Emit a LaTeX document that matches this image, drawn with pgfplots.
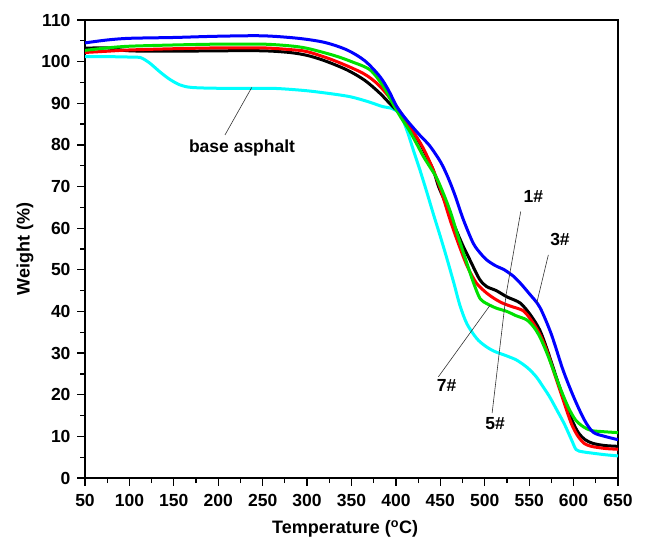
\documentclass[border=0pt]{standalone}
\usepackage{pgfplots}
\pgfplotsset{compat=1.18}
\usepackage{fontspec}
\setmainfont{Liberation Sans}
\definecolor{cblue}{RGB}{0,0,255}
\definecolor{cred}{RGB}{255,0,0}
\definecolor{cgreen}{RGB}{0,225,0}
\definecolor{ccyan}{RGB}{0,255,255}
\begin{document}
\begin{tikzpicture}
\begin{axis}[
  scale only axis, width=533pt, height=458pt,
  xmin=50, xmax=650, ymin=0, ymax=110,
  xtick={50,100,...,650}, ytick={0,10,...,110},
  minor x tick num=1, minor y tick num=1,
  tick pos=left, tick align=outside,
  major tick length=8pt, minor tick length=5pt,
  every tick/.style={line width=1.2pt, black},
  axis line style={line width=1.6pt},
  /pgf/number format/assume math mode=true,
  ticklabel style={font=\bfseries\fontsize{17.5}{17.5}\selectfont},
  xticklabel style={yshift=-5pt},
  yticklabel style={xshift=-3pt},
  every axis x label/.style={at={(axis description cs:0.488,0)}, yshift=-51pt, anchor=center, font=\bfseries\fontsize{18}{18}\selectfont},
  every axis y label/.style={at={(axis description cs:0,0.5)}, xshift=-60pt, rotate=90, anchor=center, font=\bfseries\fontsize{18}{18}\selectfont},
  xlabel={Temperature (\textsuperscript{o}C)},
  ylabel={Weight (\%)},
  every axis plot/.append style={line width=3pt, smooth},
]
% base asphalt
\addplot[ccyan] coordinates {(50,101.2) (75,101.2) (100,101.1) (112,101) (122,99.8) (134,97.6) (145,95.8) (157,94.4) (170,93.8) (200,93.6) (250,93.6) (270,93.5) (300,93) (330,92.2) (350,91.5) (370,90.3) (385,89.2) (395,88.8) (403,87.8) (408,86) (414,82.5) (420,78.5) (427,74) (435,68.5) (442,63.5) (450,58) (457,53) (465,47) (472,41.5) (480,37) (491,33.5) (500,31.8) (510,30.5) (525,29.3) (536,28.3) (548,26.5) (558,24.3) (566,21.8) (573,19.5) (582,16) (590,12.8) (598,9) (603,6.8) (610,6.3) (620,6) (635,5.6) (650,5.3)};
% 1#
\addplot[black] coordinates {(50,103.2) (75,103.3) (100,102.6) (150,102.5) (200,102.6) (250,102.6) (280,102.2) (300,101.5) (320,100.2) (345,98) (365,95.5) (382,92.4) (395,89.5) (408,86.8) (418,83.5) (427,80.4) (434,77.5) (442,74) (448,70) (455,66.5) (465,61) (475,56) (483,52.5) (494,47.8) (502,46) (513,45) (525,43.5) (540,42) (552,39) (562,35.5) (570,31) (577,26.5) (584,22) (591,17.8) (598,14) (605,11) (613,9.2) (622,8.3) (635,7.8) (650,7.6)};
% 5#
\addplot[cred] coordinates {(50,102.2) (75,102.5) (100,102.8) (150,103.1) (200,103.3) (250,103.3) (280,102.9) (300,102.4) (330,100.3) (363,97.2) (380,94.5) (395,90.8) (410,86.3) (420,83) (430,79.5) (440,75) (450,69.5) (461,62) (470,56.5) (480,51) (490,47) (500,44.8) (510,43.2) (520,42) (530,41.2) (543,40.2) (552,38) (562,34.5) (570,30.5) (577,26) (584,21.5) (591,17) (598,12.8) (605,10) (612,8.3) (620,7.6) (635,7.1) (650,6.9)};
% 7#
\addplot[cgreen] coordinates {(50,102.7) (75,103.3) (100,103.7) (150,104) (200,104.2) (250,104.2) (280,103.8) (300,103.2) (330,101.5) (350,100) (371,98) (386,94) (395,90.5) (405,86.8) (415,83.5) (424,80) (431,77.2) (438,74.8) (446,72) (455,67.5) (462,63.5) (470,58) (480,51.5) (488,46.5) (495,43) (503,41.8) (513,40.8) (525,40) (535,39) (547,38) (555,36.3) (562,33.9) (570,30) (578,25.5) (586,21) (594,17) (602,14) (611,12.3) (620,11.4) (635,11.1) (650,10.9)};
% 3#
\addplot[cblue] coordinates {(50,104.5) (75,105.2) (100,105.6) (150,105.8) (200,106.1) (250,106.2) (290,105.6) (320,104.6) (345,102.8) (365,100.2) (382,96.4) (392,93) (401,89.2) (412,86) (427,82.3) (438,79.8) (450,76) (458,72.5) (466,68.2) (476,62) (487,56.4) (495,54) (502,52.4) (512,51) (522,50) (532,48.5) (540,46.8) (550,44.3) (562,41) (575,34.5) (588,26) (600,19.5) (612,14) (622,11) (635,10) (650,9.2)};
% annotations
\draw[line width=0.6pt, black!80] (axis cs:207.6,82.4) -- (axis cs:237.7,93.8);
\node[font=\bfseries\fontsize{17.5}{17.5}\selectfont] at (axis cs:226.8,79.3) {base asphalt};
\draw[line width=0.6pt, black!80] (axis cs:540.5,64) -- (axis cs:524,44);
\node[font=\bfseries\fontsize{17.5}{17.5}\selectfont] at (axis cs:554.7,67.6) {1\#};
\draw[line width=0.6pt, black!80] (axis cs:508.3,15.6) -- (axis cs:524,44);
\node[font=\bfseries\fontsize{17.5}{17.5}\selectfont] at (axis cs:511.6,13.1) {5\#};
\draw[line width=0.6pt, black!80] (axis cs:571.6,53.6) -- (axis cs:558.5,42);
\node[font=\bfseries\fontsize{17.5}{17.5}\selectfont] at (axis cs:584.7,57.2) {3\#};
\draw[line width=0.6pt, black!80] (axis cs:447.8,24.3) -- (axis cs:506,41.5);
\node[font=\bfseries\fontsize{17.5}{17.5}\selectfont] at (axis cs:457,22.3) {7\#};
\end{axis}
\path ([shift={(-85pt,-67pt)}]current axis.south west) rectangle ([shift={(28pt,20pt)}]current axis.north east);
\end{tikzpicture}
\end{document}
